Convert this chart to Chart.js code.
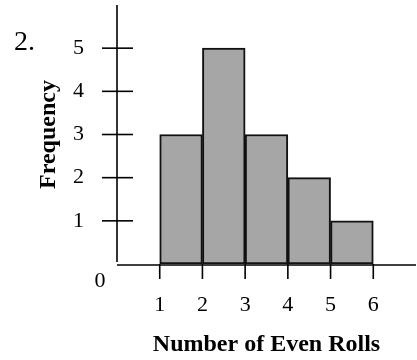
<!DOCTYPE html>
<html>
<head>
<meta charset="utf-8">
<script src="https://cdn.jsdelivr.net/npm/chart.js@4/dist/chart.umd.min.js"></script>
<style>
  html, body { margin: 0; padding: 0; background: #fff; }
  #wrap { width: 417px; height: 360px; }
</style>
</head>
<body>
<div id="wrap"><canvas id="c" width="417" height="360"></canvas></div>
<script>
// Data
const binEdges = [1, 2, 3, 4, 5, 6];
const frequencies = [3, 5, 3, 2, 1];
const xTickLabels = ['1', '2', '3', '4', '5', '6'];
const yTickLabels = ['1', '2', '3', '4', '5'];
const xTitle = 'Number of Even Rolls';
const yTitle = 'Frequency';
const problemLabel = '2.';

const points = frequencies.map((f, i) => ({ x: (binEdges[i] + binEdges[i + 1]) / 2, y: f }));

const serif = "'Liberation Serif', 'Times New Roman', serif";

const zeroPad = s => { s.paddingLeft = 0; s.paddingRight = 0; s.paddingTop = 0; s.paddingBottom = 0; };

const axesPlugin = {
  id: 'handAxes',
  afterDatasetsDraw(chart) {
    const { ctx, scales: { x, y } } = chart;
    ctx.save();
    ctx.strokeStyle = '#000';
    ctx.lineWidth = 1.6;
    const x0 = x.getPixelForValue(0);
    const y0 = y.getPixelForValue(0);
    // y axis line
    ctx.beginPath();
    ctx.moveTo(x0, y.getPixelForValue(y.max));
    ctx.lineTo(x0, y0 - 2);
    ctx.stroke();
    // x axis line
    ctx.beginPath();
    ctx.moveTo(x0, y0 + 1);
    ctx.lineTo(x.getPixelForValue(x.max), y0 + 1);
    ctx.stroke();
    // y tick marks crossing axis
    yTickLabels.forEach(t => {
      const py = y.getPixelForValue(Number(t));
      ctx.beginPath();
      ctx.moveTo(x0 - 15, py);
      ctx.lineTo(x0 + 16, py);
      ctx.stroke();
    });
    // x tick marks below axis
    xTickLabels.forEach(t => {
      const px = x.getPixelForValue(Number(t));
      ctx.beginPath();
      ctx.moveTo(px, y0);
      ctx.lineTo(px, y0 + 15);
      ctx.stroke();
    });
    // origin label
    ctx.fillStyle = '#000';
    ctx.font = "22px " + serif;
    ctx.textAlign = 'center';
    ctx.textBaseline = 'middle';
    ctx.fillText('0', x0 - 17, y0 + 17);
    // problem number
    ctx.font = "28px " + serif;
    ctx.textAlign = 'left';
    ctx.textBaseline = 'alphabetic';
    ctx.fillText(problemLabel, 14, 50);
    ctx.restore();
  }
};

new Chart(document.getElementById('c'), {
  type: 'bar',
  data: {
    datasets: [{
      data: points,
      backgroundColor: '#a6a6a6',
      borderColor: '#111',
      borderWidth: 2,
      borderSkipped: false,
      barPercentage: 1,
      categoryPercentage: 1,
      grouped: false
    }]
  },
  options: {
    responsive: false,
    animation: false,
    devicePixelRatio: 1,
    layout: { padding: { top: 5, right: 1, left: 0, bottom: 0 } },
    plugins: { legend: { display: false }, tooltip: { enabled: false } },
    scales: {
      x: {
        type: 'linear',
        offset: false,
        min: 0,
        max: 7,
        afterFit: s => { s.height = 96; zeroPad(s); },
        grid: { display: false, drawTicks: true, tickLength: 28, offset: false },
        border: { display: false },
        ticks: {
          stepSize: 1,
          maxRotation: 0,
          autoSkip: false,
          padding: 0,
          color: '#000',
          font: { family: serif, size: 22 },
          callback: v => xTickLabels.includes(String(v)) ? String(v) : null
        },
        title: {
          display: true,
          text: xTitle,
          color: '#000',
          font: { family: serif, size: 24, weight: 'bold' },
          padding: { top: 0, bottom: 1 }
        }
      },
      y: {
        min: 0,
        max: 6,
        afterFit: s => { s.width = 117; zeroPad(s); },
        grid: { display: false, drawTicks: true, tickLength: 33 },
        border: { display: false },
        ticks: {
          stepSize: 1,
          autoSkip: false,
          padding: 0,
          color: '#000',
          font: { family: serif, size: 22 },
          callback: v => yTickLabels.includes(String(v)) ? String(v) : null
        },
        title: {
          display: true,
          text: yTitle,
          color: '#000',
          font: { family: serif, size: 24, weight: 'bold' },
          padding: { top: 34, bottom: 0 }
        }
      }
    }
  },
  plugins: [axesPlugin]
});
</script>
</body>
</html>
